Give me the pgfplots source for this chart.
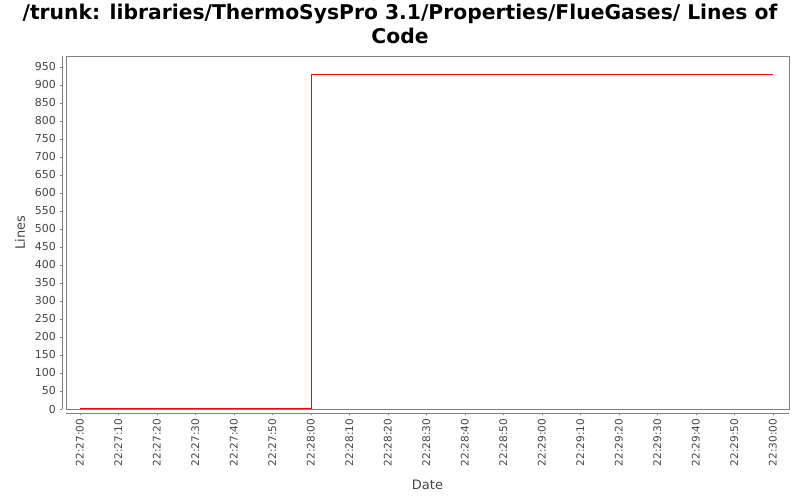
\documentclass[border=0pt]{standalone}
\usepackage{pgfplots}
\pgfplotsset{compat=1.18}
\usepackage{fontspec}
\setmainfont{DejaVu Sans}
\definecolor{axgray}{HTML}{808080}
\definecolor{lblgray}{HTML}{444444}
\begin{document}
\begin{tikzpicture}
\useasboundingbox (0,0) rectangle (800bp,500bp);
\node[font=\fontsize{20.3bp}{24bp}\selectfont\bfseries, anchor=base] at (400bp,480bp)
  {/trunk: libraries/ThermoSysPro 3.1/Properties/FlueGases/ Lines of};
\node[font=\fontsize{20.3bp}{24bp}\selectfont\bfseries, anchor=base] at (400bp,456bp) {Code};
% main plot
\begin{axis}[at={(66bp,91bp)}, anchor=south west, width=723bp, height=353bp, scale only axis,
  xmin=-3.6, xmax=184.2, ymin=0, ymax=980, axis line style={axgray}, ticks=none]
\addplot[red, line width=0.65pt, const plot] coordinates {(0,1) (60,930) (180,930)};
\end{axis}
% y axis
\begin{axis}[at={(62bp,91bp)}, anchor=south west, width=727bp, height=353bp, scale only axis,
  xmin=0, xmax=1, ymin=0, ymax=980, axis y line*=left, axis x line=none,
  axis line style={axgray, -}, ytick={0,50,...,950}, tick align=outside, major tick length=2.5bp,
  tick style={axgray}, y tick label style={font=\fontsize{11bp}{13bp}\selectfont, text=lblgray},
  /pgf/number format/assume math mode=true,
  ylabel={Lines}, ylabel style={font=\fontsize{13bp}{15bp}\selectfont, text=lblgray, at={(axis description cs:-0.0578,0.5)}, anchor=center, rotate=0}]
\end{axis}
% x axis
\begin{axis}[at={(66bp,87bp)}, anchor=south west, width=723bp, height=357bp, scale only axis,
  xmin=-3.6, xmax=184.2, ymin=0, ymax=1, axis x line*=bottom, axis y line=none,
  axis line style={axgray, -}, xtick={0,10,...,180},
  xticklabels={22:27:00,22:27:10,22:27:20,22:27:30,22:27:40,22:27:50,22:28:00,22:28:10,22:28:20,22:28:30,22:28:40,22:28:50,22:29:00,22:29:10,22:29:20,22:29:30,22:29:40,22:29:50,22:30:00},
  tick align=outside, major tick length=2.5bp, tick style={axgray},
  x tick label style={font=\fontsize{10.5bp}{12bp}\selectfont, text=lblgray, rotate=90, anchor=east},
  xlabel={Date}, xlabel style={font=\fontsize{13bp}{15bp}\selectfont, text=lblgray, at={(axis description cs:0.5,0)}, anchor=center, yshift=-72bp}]
\end{axis}
\end{tikzpicture}
\end{document}
